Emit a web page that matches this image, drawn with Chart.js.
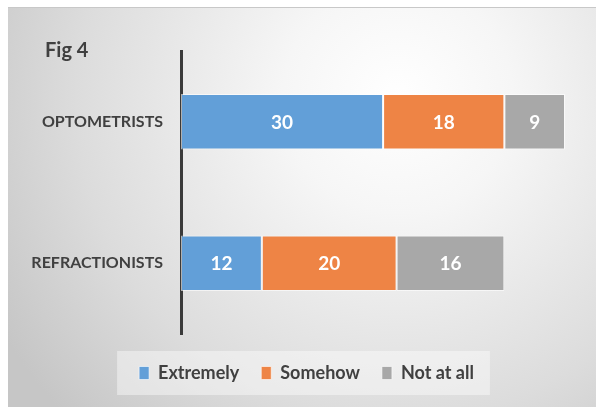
<!DOCTYPE html>
<html>
<head>
<meta charset="utf-8">
<script src="https://cdn.jsdelivr.net/npm/chart.js@4.4.1/dist/chart.umd.min.js"></script>
<style>
  html, body { margin: 0; padding: 0; background: #fff; }
  #wrap {
    position: absolute; left: 8px; top: 7px; width: 588px; height: 400px;
    border-top: 1px solid #c8c8c8;
  }
</style>
</head>
<body>
<div id="wrap"><canvas id="c" width="588" height="399"></canvas></div>
<script>
const categories = ["OPTOMETRISTS", "REFRACTIONISTS"];
const seriesNames = ["Extremely", "Somehow", "Not at all"];
const extremely = [30, 12];
const somehow = [18, 20];
const notAtAll = [9, 16];
const figTitle = "Fig 4";

const C = {
  blue:   "#629fd8",
  orange: "#ee8445",
  gray:   "#a8a8a8",
  text:   "#404040",
  axis:   "#3a3a3a",
};
const FONT = "Lato, 'Open Sans', sans-serif";

// gray radial backdrop + pale legend box + title
const backdrop = {
  id: "backdrop",
  afterLayout(chart) {
    // center the legend under the bars, not under the whole canvas
    const lg = chart.legend;
    lg.left = 40;
    lg.right = 557;
    lg.width = lg.right - lg.left;
  },
  beforeDraw(chart) {
    const { ctx, width, height } = chart;
    ctx.save();
    const g = ctx.createRadialGradient(390, 90, 0, 390, 90, 460);
    g.addColorStop(0, "#ffffff");
    g.addColorStop(0.25, "#f6f6f6");
    g.addColorStop(0.7, "#dcdcdc");
    g.addColorStop(1, "#c6c6c6");
    ctx.fillStyle = g;
    ctx.fillRect(0, 0, width, height);

    const hb = chart.legend.legendHitBoxes;
    if (hb && hb.length) {
      const left = Math.min(...hb.map(b => b.left)) - 22;
      const right = Math.max(...hb.map(b => b.left + b.width)) + 16;
      const cy = hb[0].top + hb[0].height / 2;
      ctx.fillStyle = "rgba(255,255,255,0.42)";
      ctx.fillRect(left, cy - 22, right - left, 44);
    }
    ctx.restore();
  },
  afterDraw(chart) {
    const { ctx } = chart;
    ctx.save();
    ctx.fillStyle = C.text;
    ctx.font = `bold 20px ${FONT}`;
    ctx.textBaseline = "alphabetic";
    ctx.fillText(figTitle, 37, 49);
    ctx.restore();
  },
};

// white numbers inside each segment
const segLabels = {
  id: "segLabels",
  afterDatasetsDraw(chart) {
    const { ctx } = chart;
    ctx.save();
    ctx.fillStyle = "#ffffff";
    ctx.font = `bold 19px ${FONT}`;
    ctx.textAlign = "center";
    ctx.textBaseline = "middle";
    chart.data.datasets.forEach((ds, i) => {
      chart.getDatasetMeta(i).data.forEach((bar, j) => {
        const { x, y, base } = bar.getProps(["x", "y", "base"], true);
        ctx.fillText(String(ds.data[j]), (x + base) / 2, y + 1);
      });
    });
    ctx.restore();
  },
};

const seg = (label, data, color) => ({
  label,
  data,
  backgroundColor: color,
  borderColor: "rgba(255,255,255,0.6)",
  borderWidth: 1,
  borderSkipped: false,
  categoryPercentage: 0.8,
  barPercentage: 0.49,
});

new Chart(document.getElementById("c"), {
  type: "bar",
  data: {
    labels: categories,
    datasets: [
      seg(seriesNames[0], extremely, C.blue),
      seg(seriesNames[1], somehow, C.orange),
      seg(seriesNames[2], notAtAll, C.gray),
    ],
  },
  options: {
    indexAxis: "y",
    responsive: false,
    animation: false,
    layout: { padding: { top: 43, left: 0, right: 31, bottom: 15 } },
    plugins: {
      legend: {
        position: "bottom",
        labels: {
          boxWidth: 10,
          boxHeight: 13,
          padding: 22,
          color: C.text,
          font: { family: FONT, size: 18, weight: "bold" },
        },
      },
      tooltip: { enabled: false },
    },
    scales: {
      x: {
        stacked: true,
        min: 0,
        max: 57,
        ticks: { display: false },
        grid: { display: false, drawTicks: false },
        border: { display: false },
        afterFit: s => { s.height = 8; },
      },
      y: {
        stacked: true,
        ticks: {
          color: C.text,
          padding: 18,
          font: { family: FONT, size: 16, weight: "bold" },
        },
        grid: { display: false, drawTicks: false },
        border: { display: true, color: C.axis, width: 3 },
        afterFit: s => { s.width = 173; },
      },
    },
  },
  plugins: [backdrop, segLabels],
});
</script>
</body>
</html>
